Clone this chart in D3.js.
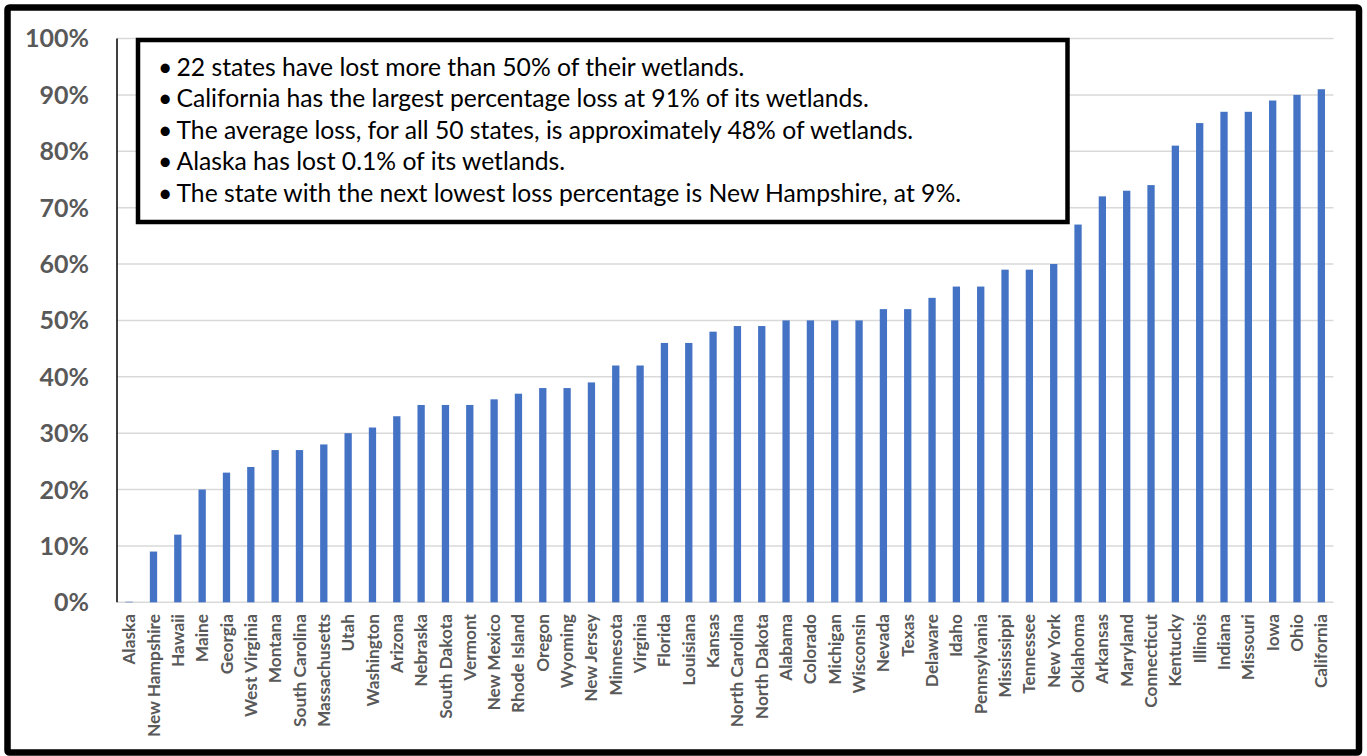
<!DOCTYPE html>
<html>
<head>
<meta charset="utf-8">
<script src="https://cdn.jsdelivr.net/npm/d3@7"></script>
<style>
html,body{margin:0;padding:0;background:#fff;}
svg{display:block;}
</style>
</head>
<body>
<svg id="chart" width="1367" height="756"></svg>
<script>
const states = ["Alaska","New Hampshire","Hawaii","Maine","Georgia","West Virginia","Montana","South Carolina","Massachusetts","Utah","Washington","Arizona","Nebraska","South Dakota","Vermont","New Mexico","Rhode Island","Oregon","Wyoming","New Jersey","Minnesota","Virginia","Florida","Louisiana","Kansas","North Carolina","North Dakota","Alabama","Colorado","Michigan","Wisconsin","Nevada","Texas","Delaware","Idaho","Pennsylvania","Mississippi","Tennessee","New York","Oklahoma","Arkansas","Maryland","Connecticut","Kentucky","Illinois","Indiana","Missouri","Iowa","Ohio","California"];
const lossPct = [0.1,9,12,20,23,24,27,27,28,30,31,33,35,35,35,36,37,38,38,39,42,42,46,46,48,49,49,50,50,50,50,52,52,54,56,56,59,59,60,67,72,73,74,81,85,87,87,89,90,91];
const yTicks = [0,10,20,30,40,50,60,70,80,90,100];
const notes = [
  "22 states have lost more than 50% of their wetlands.",
  "California has the largest percentage loss at 91% of its wetlands.",
  "The average loss, for all 50 states, is approximately 48% of wetlands.",
  "Alaska has lost 0.1% of its wetlands.",
  "The state with the next lowest loss percentage is New Hampshire, at 9%."
];

(function () {
const svg = d3.select("#chart");
const gray = "#595959";
const font = "Lato, 'Open Sans', sans-serif";

function fitSize(text, weight, target) {
  const t = svg.append("text").attr("font-family", font).attr("font-weight", weight)
    .attr("font-size", 20).text(text);
  const w = t.node().getComputedTextLength();
  t.remove();
  return 20 * target / w;
}

const pL = 117, pR = 1333.5, pT = 38.5, pB = 602.3;
const x = d3.scaleBand().domain(states).range([pL, pR]).paddingInner(0.7).paddingOuter(0.35);
const y = d3.scaleLinear().domain([0, 100]).range([pB, pT]);

svg.append("g").selectAll("line").data(yTicks).join("line")
  .attr("x1", pL).attr("x2", pR)
  .attr("y1", d => y(d)).attr("y2", d => y(d))
  .attr("stroke", "#d9d9d9").attr("stroke-width", 1.5);

svg.append("g").selectAll("rect").data(states).join("rect")
  .attr("x", d => x(d)).attr("width", x.bandwidth())
  .attr("y", (d, i) => y(lossPct[i]))
  .attr("height", (d, i) => y(0) - y(lossPct[i]))
  .attr("fill", "#4472C4");

svg.append("line").attr("x1", pL).attr("x2", pL).attr("y1", pT).attr("y2", pB)
  .attr("stroke", "#000").attr("stroke-width", 1.5);

const ySize = fitSize("100%", "bold", 64);
svg.append("g").selectAll("text").data(yTicks).join("text")
  .attr("x", 89).attr("y", d => y(d))
  .attr("dy", "0.36em")
  .attr("text-anchor", "end")
  .attr("font-family", font).attr("font-weight", "bold").attr("font-size", ySize)
  .attr("fill", gray)
  .text(d => d + "%");

const xSize = fitSize("South Carolina", "bold", 113);
svg.append("g").selectAll("text").data(states).join("text")
  .attr("transform", d => `translate(${x(d) + x.bandwidth() / 2},614) rotate(-90)`)
  .attr("text-anchor", "end")
  .attr("dy", "0.35em")
  .attr("font-family", font).attr("font-weight", "bold").attr("font-size", xSize)
  .attr("fill", gray)
  .text(d => d);

svg.append("rect").attr("x", 138).attr("y", 40).attr("width", 929.5).attr("height", 182)
  .attr("fill", "#fff").attr("stroke", "#000").attr("stroke-width", 4.5);
const nSize = fitSize(notes[0], "normal", 568);
const ng = svg.append("g");
notes.forEach((n, i) => {
  const yy = 75.7 + i * 31.5;
  ng.append("text").attr("x", 158).attr("y", yy)
    .attr("font-family", font).attr("font-size", nSize).attr("fill", "#000").text("\u2022");
  ng.append("text").attr("x", 176.5).attr("y", yy)
    .attr("font-family", font).attr("font-size", nSize).attr("fill", "#000").text(n);
});

svg.append("rect").attr("x", 7.5).attr("y", 7.5).attr("width", 1351.5).attr("height", 745)
  .attr("rx", 2).attr("fill", "none").attr("stroke", "#000").attr("stroke-width", 6.5);
})();
</script>
</body>
</html>
